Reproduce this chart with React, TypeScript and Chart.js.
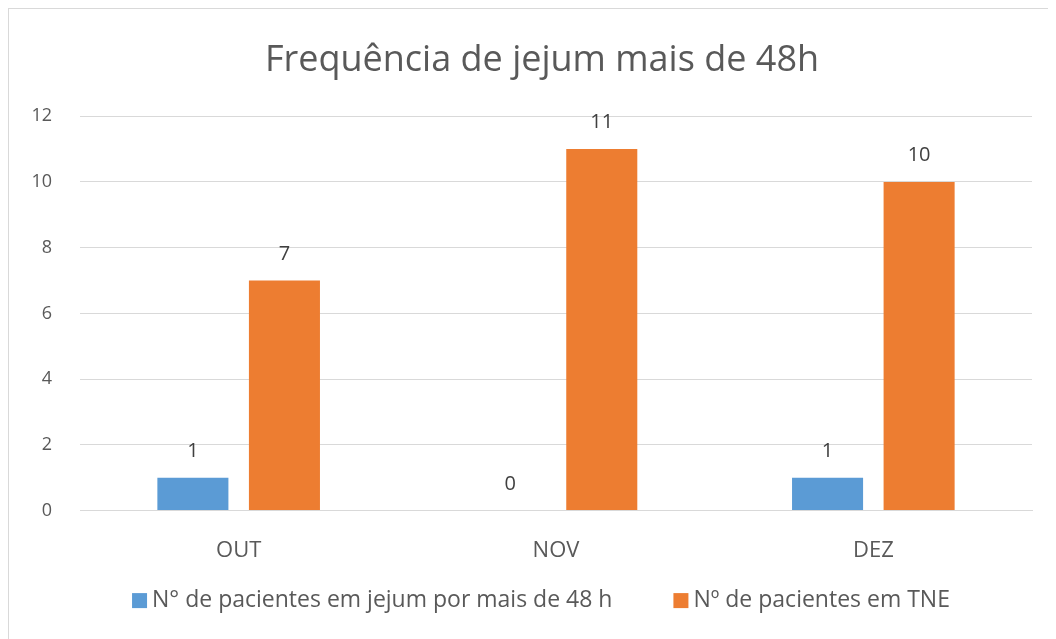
import { useEffect, useRef } from "react";
import { Chart, registerables } from "chart.js";

Chart.register(...registerables);

const chartTitle = "Frequência de jejum mais de 48h";
const categories = ["OUT", "NOV", "DEZ"];
const fastingLabel = "N° de pacientes em jejum por mais de 48 h";
const fastingValues = [1, 0, 1];
const tneLabel = "Nº de pacientes em TNE";
const tneValues = [7, 11, 10];
const yMin = 0;
const yMax = 12;
const yStep = 2;

const BLUE = "#5B9BD5";
const ORANGE = "#ED7D31";
const TEXT = "#595959";
const FONT = "'Open Sans', 'DejaVu Sans', sans-serif";

const dataLabelPlugin = {
  id: "dataLabels",
  afterDatasetsDraw(chart: any) {
    const ctx = chart.ctx;
    ctx.save();
    ctx.font = `20px ${FONT}`;
    ctx.fillStyle = "#404040";
    ctx.textAlign = "center";
    ctx.textBaseline = "alphabetic";
    chart.data.datasets.forEach((ds: any, i: number) => {
      const meta = chart.getDatasetMeta(i);
      meta.data.forEach((el: any, j: number) => {
        ctx.fillText(String(ds.data[j]), el.x, el.y - 21);
      });
    });
    ctx.restore();
  },
};

const legendPlugin = {
  id: "bottomLegend",
  afterDraw(chart: any) {
    const ctx = chart.ctx;
    const box = 15;
    const gapText = 5;
    const gapItem = 61;
    ctx.save();
    ctx.font = `23px ${FONT}`;
    const items = chart.data.datasets.map((ds: any) => ({
      text: ds.label,
      color: ds.backgroundColor,
      w: box + gapText + ctx.measureText(ds.label).width,
    }));
    const total =
      items.reduce((s: number, it: any) => s + it.w, 0) + gapItem * (items.length - 1);
    let x = chart.width / 2 - total / 2 - 1;
    const cy = chart.chartArea.bottom + 90;
    ctx.textBaseline = "middle";
    ctx.textAlign = "left";
    items.forEach((it: any) => {
      ctx.fillStyle = it.color;
      ctx.fillRect(x, cy - box / 2, box, box);
      ctx.fillStyle = TEXT;
      ctx.fillText(it.text, x + box + gapText, cy);
      x += it.w + gapItem;
    });
    ctx.restore();
  },
};

export default function App() {
  const ref = useRef<HTMLCanvasElement | null>(null);

  useEffect(() => {
    document.body.style.overflow = "hidden";
    document.documentElement.style.overflow = "hidden";
    if (!ref.current) return;
    const chart = new Chart(ref.current, {
      type: "bar",
      data: {
        labels: categories,
        datasets: [
          {
            label: fastingLabel,
            data: fastingValues,
            backgroundColor: BLUE,
            categoryPercentage: 0.577,
            barPercentage: 0.776,
          },
          {
            label: tneLabel,
            data: tneValues,
            backgroundColor: ORANGE,
            categoryPercentage: 0.577,
            barPercentage: 0.776,
          },
        ],
      },
      options: {
        responsive: false,
        animation: false,
        layout: { padding: { left: 0, right: 0, top: 0, bottom: 49 } },
        plugins: {
          legend: { display: false },
          tooltip: { enabled: false },
          title: {
            display: true,
            text: chartTitle,
            color: TEXT,
            font: { family: FONT, size: 36, weight: "normal" as any },
            padding: { top: 30, bottom: 34 },
          },
        },
        scales: {
          x: {
            grid: { display: false, drawTicks: false },
            border: { display: true, color: "#D9D9D9", width: 1 },
            ticks: {
              color: TEXT,
              font: { family: FONT, size: 22 },
              padding: 27,
            },
          },
          y: {
            min: yMin,
            max: yMax,
            afterFit: (scale: any) => {
              scale.width = 71;
            },
            grid: { color: "#D9D9D9", drawTicks: false, lineWidth: 1 },
            border: { display: false },
            ticks: {
              stepSize: yStep,
              color: TEXT,
              font: { family: FONT, size: 18 },
              padding: 28,
            },
          },
          yRight: {
            position: "right",
            display: true,
            min: yMin,
            max: yMax,
            afterFit: (scale: any) => {
              scale.width = 43;
            },
            grid: { display: false, drawTicks: false },
            border: { display: false },
            ticks: { display: false },
          },
        },
      },
      plugins: [dataLabelPlugin, legendPlugin],
    });
    return () => chart.destroy();
  }, []);

  return (
    <div
      style={{
        width: 1066,
        height: 631,
        borderTop: "1px solid #D9D9D9",
        borderLeft: "1px solid #D9D9D9",
        borderBottom: "1px solid #D9D9D9",
        background: "#fff",
      }}
    >
      <canvas ref={ref} width={1066} height={631} style={{ display: "block" }} />
    </div>
  );
}
